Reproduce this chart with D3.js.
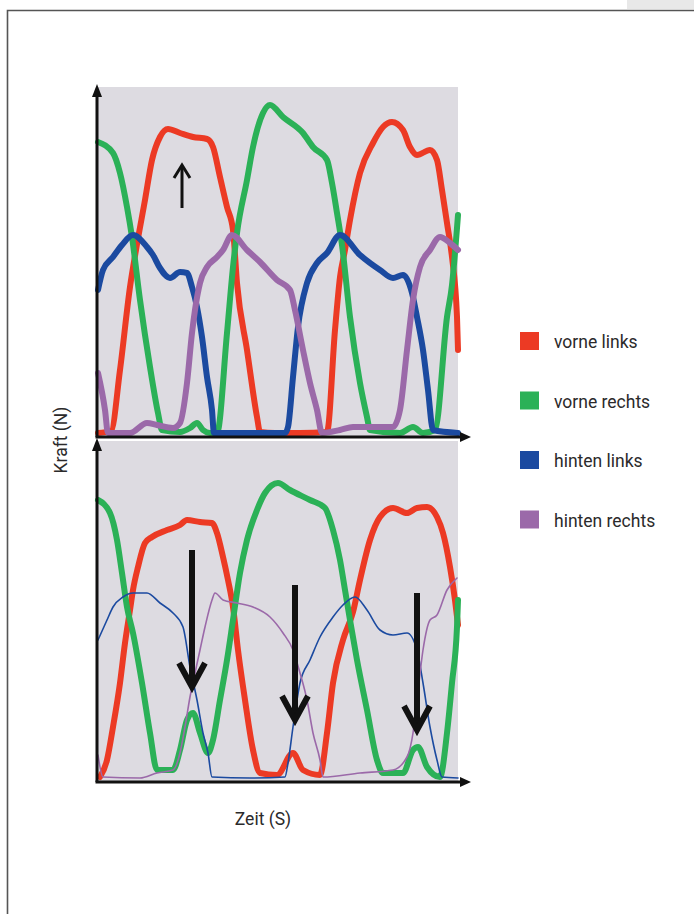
<!DOCTYPE html>
<html>
<head>
<meta charset="utf-8">
<script src="https://cdn.jsdelivr.net/npm/d3@7"></script>
<style>
  body { margin: 0; background: #fff; }
  text { font-family: Roboto, "Open Sans", sans-serif; fill: #2b2a2b; }
</style>
</head>
<body>
<div id="chart"></div>
<script>
// series names + colours
var seriesNames = ["vorne links", "vorne rechts", "hinten links", "hinten rechts"];
var seriesColors = ["#ec3a24", "#2bb157", "#1b4aa0", "#9b69a9"];

// top panel: [zeit, kraft] points
var topVorneLinks = [[0,0],[13,2],[22,63],[32,146],[38,183],[47,233],[54,273],[62,296],[70,304],[82,300],[95,296],[109,294],[115,286],[122,256],[129,226],[135,203],[139,150],[149,83],[159,16],[162,1],[177,0],[202,0],[229,1],[237,103],[242,156],[247,183],[252,213],[262,260],[275,290],[285,306],[294,311],[305,303],[312,286],[319,278],[332,283],[339,273],[344,243],[349,210],[354,176],[359,116],[360,83]];
var topVorneRechts = [[0,291],[15,280],[22,260],[29,226],[34,196],[42,133],[52,66],[60,20],[64,3],[82,1],[92,5],[99,10],[105,3],[112,0],[119,0],[129,100],[135,166],[139,200],[149,253],[155,286],[165,320],[172,328],[185,316],[205,300],[215,286],[229,273],[234,250],[239,220],[244,188],[252,116],[262,50],[269,16],[272,3],[302,0],[315,6],[325,0],[337,3],[349,116],[354,148],[360,218]];
var topHintenLinks = [[0,143],[5,163],[15,176],[24,188],[35,198],[49,186],[55,178],[62,165],[72,155],[82,161],[89,160],[94,146],[99,126],[104,96],[109,56],[114,23],[116,0],[152,0],[187,0],[190,6],[195,56],[200,106],[209,150],[219,170],[229,180],[242,198],[262,178],[282,163],[295,155],[305,158],[314,140],[319,116],[325,83],[330,43],[335,3],[360,0]];
var topHintenRechts = [[0,60],[7,23],[10,0],[32,0],[49,10],[59,8],[75,5],[82,10],[89,50],[94,100],[97,123],[102,150],[109,166],[119,176],[125,183],[134,198],[149,183],[162,171],[179,153],[192,143],[197,123],[205,83],[212,50],[219,23],[224,0],[242,3],[255,6],[295,6],[302,23],[309,83],[315,133],[322,166],[332,183],[342,196],[352,190],[360,183]];

// bottom panel
var botVorneLinks = [[2,1],[9,18],[15,51],[22,95],[27,135],[32,168],[35,188],[40,211],[47,235],[54,241],[69,248],[82,253],[89,258],[102,256],[114,255],[119,245],[125,221],[130,198],[135,171],[140,128],[147,78],[155,28],[162,5],[179,3],[195,25],[205,8],[222,3],[229,45],[235,95],[245,138],[255,166],[262,198],[272,238],[282,261],[295,270],[309,265],[319,270],[329,271],[339,261],[345,245],[352,211],[357,178],[360,153]];
var botVorneRechts = [[0,278],[12,265],[19,238],[24,205],[29,171],[35,145],[44,95],[52,45],[59,8],[75,8],[82,28],[89,58],[95,65],[102,45],[110,25],[115,38],[122,78],[129,118],[135,158],[142,205],[149,238],[159,268],[167,285],[180,295],[192,288],[212,278],[227,270],[235,248],[242,218],[247,188],[252,158],[259,118],[269,68],[279,18],[285,5],[305,5],[315,28],[320,31],[329,11],[342,1],[349,45],[354,95],[359,151],[360,178]];
var botHintenLinks = [[0,138],[9,158],[15,171],[25,181],[35,185],[49,185],[62,175],[75,165],[85,151],[92,111],[99,78],[105,45],[110,25],[114,1],[152,0],[187,1],[190,15],[195,51],[202,95],[212,118],[222,141],[235,161],[245,173],[257,181],[269,168],[282,148],[295,143],[309,145],[319,128],[325,95],[332,51],[339,18],[344,1],[360,0]];
var botHintenRechts = [[0,23],[5,1],[42,0],[59,5],[75,8],[82,25],[87,51],[92,81],[97,105],[102,128],[107,151],[114,178],[117,185],[125,178],[139,175],[155,171],[172,161],[185,145],[195,128],[202,105],[209,78],[215,45],[222,18],[225,1],[262,5],[295,8],[309,21],[315,45],[319,78],[325,128],[332,158],[339,163],[349,188],[359,200]];

// marker arrows: [zeit, kraft from, kraft to]
var topArrows = [[84,225,268]];
var botArrows = [[94,228,91],[197,193,58],[319,185,48]];

var W = 694, H = 914;
var svg = d3.select("#chart").append("svg")
    .attr("width", W)
    .attr("height", H);

// page frame + grey tab at the corner
svg.append("rect").attr("x", 627).attr("y", 0).attr("width", 67).attr("height", 9).attr("fill", "#e8e8e8");
svg.append("path")
  .attr("d", "M7.5,914 V10.5 H694")
  .attr("fill", "none").attr("stroke", "#555").attr("stroke-width", 1.6);

var x = d3.scaleLinear().domain([0, 360]).range([98, 458]);
var yTop = d3.scaleLinear().domain([0, 340]).range([433, 93]);
var yBot = d3.scaleLinear().domain([0, 340]).range([778, 438]);

function panel(y, bgTop, bgBottom, series, widths, arrows, arrowW, headW, headL) {
  var g = svg.append("g");
  g.append("rect")
    .attr("x", x(0)).attr("y", bgTop)
    .attr("width", x(360) - x(0)).attr("height", bgBottom - bgTop)
    .attr("fill", "#dddbe1");

  var line = d3.line()
    .curve(d3.curveMonotoneX)
    .x(function(d) { return x(d[0]); })
    .y(function(d) { return y(d[1]); });

  series.forEach(function(s, i) {
    g.append("path")
      .datum(s)
      .attr("fill", "none")
      .attr("stroke", seriesColors[i])
      .attr("stroke-width", widths[i])
      .attr("stroke-linejoin", "round")
      .attr("stroke-linecap", "round")
      .attr("d", line);
  });

  // black arrows marking the phases
  arrows.forEach(function(a) {
    var px = x(a[0]), y0 = y(a[1]), y1 = y(a[2]);
    var dir = y1 > y0 ? 1 : -1;
    g.append("line")
      .attr("x1", px).attr("x2", px)
      .attr("y1", y0).attr("y2", y1 - dir * arrowW * 0.5)
      .attr("stroke", "#111").attr("stroke-width", arrowW);
    g.append("path")
      .attr("d", "M" + (px - headW) + "," + (y1 - dir * headL) + " L" + px + "," + y1 + " L" + (px + headW) + "," + (y1 - dir * headL))
      .attr("fill", "none").attr("stroke", "#111")
      .attr("stroke-width", arrowW).attr("stroke-linejoin", "miter");
  });

  // axes with arrow heads
  var ax = g.append("g");
  var x0 = 97, yb = y(0) + 4;
  ax.append("line").attr("x1", x0).attr("x2", x0).attr("y1", yb).attr("y2", bgTop + 6)
    .attr("stroke", "#111").attr("stroke-width", 3);
  ax.append("path")
    .attr("d", "M" + (x0 - 5) + "," + (bgTop + 10) + " L" + x0 + "," + (bgTop - 3) + " L" + (x0 + 5) + "," + (bgTop + 10) + "Z")
    .attr("fill", "#111");
  ax.append("line").attr("x1", x0 - 1.5).attr("x2", 462).attr("y1", yb).attr("y2", yb)
    .attr("stroke", "#111").attr("stroke-width", 3);
  ax.append("path")
    .attr("d", "M460," + (yb - 5) + " L471," + yb + " L460," + (yb + 5) + "Z")
    .attr("fill", "#111");
}

panel(yTop, 87, 437,
  [topVorneLinks, topVorneRechts, topHintenLinks, topHintenRechts],
  [6, 6, 6, 6], topArrows, 3, 8, 13);
panel(yBot, 441, 783,
  [botVorneLinks, botVorneRechts, botHintenLinks, botHintenRechts],
  [6, 6, 1.6, 1.6], botArrows, 6, 13, 24);

// axis titles
svg.append("text")
  .attr("transform", "translate(67,440) rotate(-90)")
  .attr("text-anchor", "middle")
  .style("font-size", "17.5px")
  .text("Kraft (N)");
svg.append("text")
  .attr("x", 263).attr("y", 825)
  .attr("text-anchor", "middle")
  .style("font-size", "17.5px")
  .text("Zeit (S)");

// legend
var legend = svg.append("g");
seriesNames.forEach(function(name, i) {
  var cy = 341 + i * 59.5;
  legend.append("rect")
    .attr("x", 520).attr("y", cy - 9)
    .attr("width", 19).attr("height", 18)
    .attr("fill", seriesColors[i]);
  legend.append("text")
    .attr("x", 554).attr("y", cy + 7)
    .style("font-size", "17.5px")
    .text(name);
});
</script>
</body>
</html>
